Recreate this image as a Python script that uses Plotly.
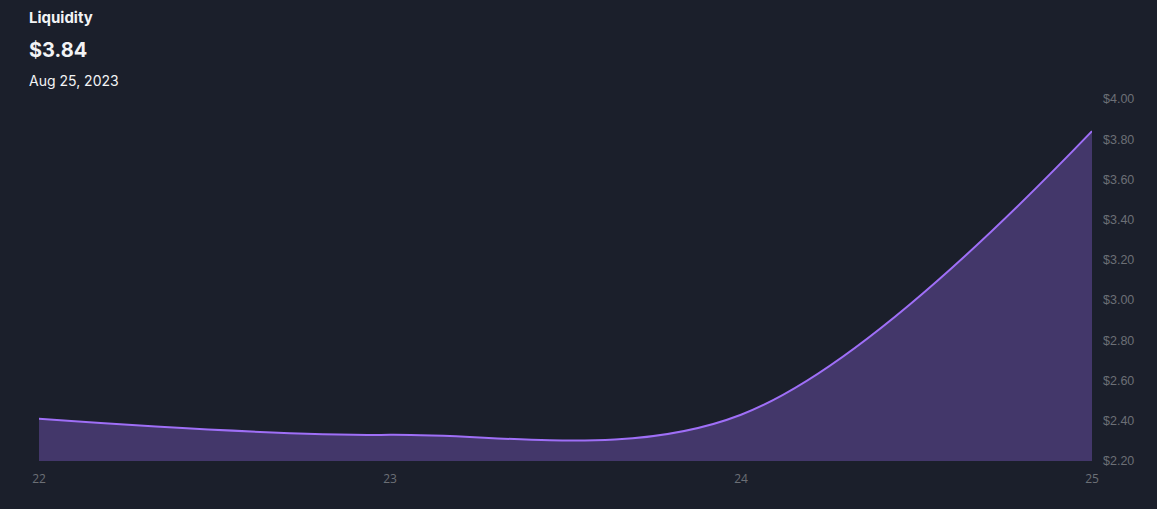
import plotly.graph_objects as go

dates = ["2023-08-22", "2023-08-23", "2023-08-24", "2023-08-25"]
liquidity = [2.41, 2.33, 2.43, 3.84]
y_ticks = [2.2, 2.4, 2.6, 2.8, 3.0, 3.2, 3.4, 3.6, 3.8, 4.0]
title_text = "Liquidity"
value_text = "$3.84"
date_text = "Aug 25, 2023"

BG = "#1b1f2b"
fig = go.Figure()
fig.add_trace(go.Scatter(
    x=dates, y=liquidity, mode="lines",
    line=dict(color="#9f6ff7", width=2, shape="spline", smoothing=1.0),
    fill="tozeroy", fillcolor="#43376a", hoverinfo="skip",
))
fig.update_layout(
    width=1157, height=509,
    paper_bgcolor=BG, plot_bgcolor=BG,
    margin=dict(l=39, r=65, t=99, b=48),
    showlegend=False,
    xaxis=dict(type="date", range=[dates[0], dates[-1]], tickformat="%d",
               tickvals=dates, showgrid=False, zeroline=False, showline=False,
               ticks="", ticklabelstandoff=9,
               tickfont=dict(color="#6c6f76", size=12, family="Open Sans")),
    yaxis=dict(side="right", range=[2.2, 4.0], tickvals=y_ticks,
               ticktext=[f"${v:.2f}" for v in y_ticks],
               showgrid=False, zeroline=False, showline=False, ticks="",
               ticklabelstandoff=10,
               tickfont=dict(color="#6c6f76", size=12.5, family="Liberation Sans")),
    annotations=[
        dict(text=f"<b>{title_text}</b>", xref="paper", yref="paper",
             x=-12/1053, y=(509-48-18)/362, xanchor="left", yanchor="middle",
             showarrow=False, font=dict(color="#f2f3f5", size=15, family="Inter")),
        dict(text=f"<b>{value_text}</b>", xref="paper", yref="paper",
             x=-12/1053, y=(509-48-50)/362, xanchor="left", yanchor="middle",
             showarrow=False, font=dict(color="#f2f3f5", size=20, family="Inter")),
        dict(text=date_text, xref="paper", yref="paper",
             x=-12/1053, y=(509-48-80)/362, xanchor="left", yanchor="middle",
             showarrow=False, font=dict(color="#f2f3f5", size=14, family="Inter")),
    ],
)
fig.write_html("out.html", config={"displayModeBar": False},
               post_script="document.body.style.margin='0';document.body.style.background='" + BG + "';")
